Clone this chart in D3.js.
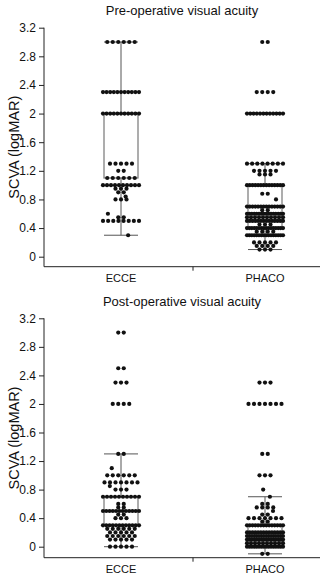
<!DOCTYPE html>
<html><head><meta charset="utf-8">
<script src="https://cdn.jsdelivr.net/npm/d3@7"></script>
<style>body{margin:0;background:#fff}svg{display:block;font-family:"Liberation Sans",Arial,sans-serif}</style>
</head><body><svg id="c" width="325" height="578"></svg>
<script>
const categories = ["ECCE", "PHACO"];
const yTicks = [0, 0.4, 0.8, 1.2, 1.6, 2, 2.4, 2.8, 3.2];
const titles = ["Pre-operative visual acuity", "Post-operative visual acuity"];
const yLabel = "SCVA (logMAR)";

// box stats: [lower whisker, Q1, median, Q3, upper whisker]
const preEcceBox = [0.3, 1.1, 2.0, 2.0, 3.0];
const prePhacoBox = [0.1, 0.4, 0.55, 1.0, 1.3];
const postEcceBox = [0.0, 0.3, 0.5, 0.7, 1.3];
const postPhacoBox = [-0.1, 0.0, 0.1, 0.3, 0.7];

// individual observations: distinct values and how many patients at each
const preEcceVals   = [3.0, 2.3, 2.0, 1.3, 1.2, 1.1, 1.0, 0.95, 0.9, 0.84, 0.8, 0.6, 0.55, 0.5, 0.3];
const preEcceCounts = [6,   11,  11,  5,   2,   6,   10,  3,    2,   1,    3,   1,   2,    8,   1];
const prePhacoVals   = [3.0, 2.3, 2.0, 1.3, 1.2, 1.15, 1.0, 0.88, 0.8, 0.7, 0.65, 0.6, 0.55, 0.5, 0.45, 0.4, 0.35, 0.3, 0.2, 0.15, 0.1];
const prePhacoCounts = [2,   4,   12,  8,   5,   3,    14,  2,    1,   14,  2,    16,  10,   14,  3,    16,  4,    16,  5,   4,    3];
const postEcceVals   = [3.0, 2.5, 2.3, 2.0, 1.3, 1.1, 1.0, 0.9, 0.85, 0.8, 0.7, 0.6, 0.55, 0.5, 0.45, 0.4, 0.3, 0.25, 0.2, 0.15, 0.1, 0.0];
const postEcceCounts = [2,   2,   3,   4,   2,   1,   6,   7,   1,    3,   10,  2,   2,    12,  2,    3,   12,  6,    5,   6,    5,   5];
const postPhacoVals   = [2.3, 2.0, 1.3, 1.0, 0.8, 0.7, 0.6, 0.55, 0.5, 0.45, 0.4, 0.35, 0.3, 0.2, 0.15, 0.1, 0.05, 0.0, -0.1];
const postPhacoCounts = [3,   7,   2,   3,   1,   1,   2,   4,    1,   2,    7,   2,    14,  14,  16,   16,  10,   16,  2];

const panels = [
  {title: titles[0], top: 27.7, zero: 256.7, axisY: 266.7, titleY: 15,
   groups: [{cat: "ECCE", box: preEcceBox, vals: preEcceVals, counts: preEcceCounts},
            {cat: "PHACO", box: prePhacoBox, vals: prePhacoVals, counts: prePhacoCounts}]},
  {title: titles[1], top: 318.3, zero: 546.7, axisY: 557.7, titleY: 306,
   groups: [{cat: "ECCE", box: postEcceBox, vals: postEcceVals, counts: postEcceCounts},
            {cat: "PHACO", box: postPhacoBox, vals: postPhacoVals, counts: postPhacoCounts}]}
];

const svg = d3.select("#c");
const x = d3.scalePoint().domain(categories).range([121, 265]);
const axisLeft = 44, axisRight = 320, boxW = 34;

panels.forEach(p => {
  const y = d3.scaleLinear().domain([0, 3.2]).range([p.zero, p.top]);
  const g = svg.append("g");

  g.append("text").attr("x", 182).attr("y", p.titleY).attr("text-anchor", "middle")
    .attr("font-size", 13).attr("fill", "#111").text(p.title);

  // y axis
  const ya = g.append("g").attr("transform", `translate(${axisLeft},0)`)
    .call(d3.axisLeft(y).tickValues(yTicks).tickSize(5).tickPadding(3).tickFormat(d3.format("~g")));
  ya.select(".domain").remove();
  ya.selectAll("text").attr("font-size", 12).attr("fill", "#111").attr("font-family", "Liberation Sans, Arial, sans-serif");
  ya.selectAll("line").attr("stroke", "#222");
  g.append("line").attr("x1", axisLeft).attr("x2", axisLeft).attr("y1", y(3.2)).attr("y2", p.axisY).attr("stroke", "#222");

  // x axis
  g.append("line").attr("x1", axisLeft).attr("x2", axisRight).attr("y1", p.axisY).attr("y2", p.axisY).attr("stroke", "#222");
  const mid = (x(categories[0]) + x(categories[1])) / 2;
  g.append("line").attr("x1", mid).attr("x2", mid).attr("y1", p.axisY).attr("y2", p.axisY + 4).attr("stroke", "#222");
  categories.forEach(c => {
    g.append("text").attr("x", x(c)).attr("y", p.axisY + 15).attr("text-anchor", "middle")
      .attr("font-size", 11).attr("fill", "#111").text(c);
  });

  g.append("text").attr("transform", `translate(19,${(y(3.2) + p.axisY) / 2}) rotate(-90)`)
    .attr("text-anchor", "middle").attr("font-size", 14.5).attr("fill", "#111").text(yLabel);

  p.groups.forEach(gr => {
    const cx = x(gr.cat);
    const [lo, q1, med, q3, hi] = gr.box;
    const st = "#555";
    g.append("line").attr("x1", cx).attr("x2", cx).attr("y1", y(hi)).attr("y2", y(q3)).attr("stroke", st);
    g.append("line").attr("x1", cx).attr("x2", cx).attr("y1", y(q1)).attr("y2", y(lo)).attr("stroke", st);
    [lo, hi].forEach(v => g.append("line").attr("x1", cx - boxW / 2).attr("x2", cx + boxW / 2)
      .attr("y1", y(v)).attr("y2", y(v)).attr("stroke", st));
    g.append("rect").attr("x", cx - boxW / 2).attr("y", y(q3)).attr("width", boxW)
      .attr("height", y(q1) - y(q3)).attr("fill", "none").attr("stroke", "#777").attr("stroke-width", 1.2);
    g.append("line").attr("x1", cx - boxW / 2).attr("x2", cx + boxW / 2)
      .attr("y1", y(med)).attr("y2", y(med)).attr("stroke", "#777").attr("stroke-width", 1.2);

    // dots: each row of equal values spread across the box width
    const pts = [];
    gr.vals.forEach((v, k) => {
      const n = gr.counts[k];
      if (n === 1) {
        const f = ((k * 0.618034 + v * 3.7) % 1) - 0.5;
        pts.push([cx + f * boxW * 0.8, v]);
      } else {
        const w = Math.min(boxW + 2, (n - 1) * 5.5);
        for (let i = 0; i < n; i++) pts.push([cx - w / 2 + w * i / (n - 1), v]);
      }
    });
    g.selectAll(null).data(pts).join("circle")
      .attr("cx", d => d[0]).attr("cy", d => y(d[1])).attr("r", 2.1).attr("fill", "#111");
  });
});
</script></body></html>
